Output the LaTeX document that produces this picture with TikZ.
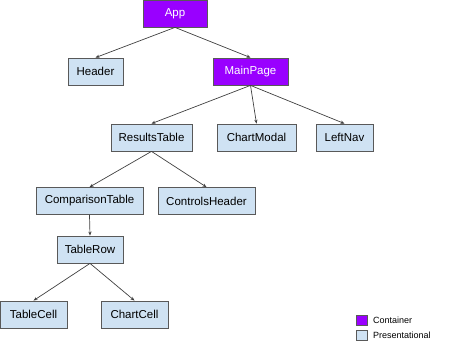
\documentclass[tikz,border=0pt]{standalone}
\usepackage{fontspec}
\setmainfont{Liberation Sans}
\usetikzlibrary{arrows.meta}
\definecolor{container}{HTML}{9900FF}
\definecolor{presfill}{HTML}{CFE2F3}
\definecolor{edgegray}{HTML}{595959}
\definecolor{linegray}{HTML}{404040}

\tikzset{
  comp/.style={draw=edgegray, line width=0.8pt, minimum height=27pt, inner sep=0pt,
    font=\fontsize{11.5}{13}\selectfont},
  cont/.style={comp, fill=container, text=white},
  pres/.style={comp, fill=presfill, text=black},
  link/.style={draw=linegray, line width=0.7pt, -{Stealth[length=4pt,width=3.2pt]}},
  key/.style={draw=edgegray, line width=0.7pt, minimum width=11pt, minimum height=10pt, inner sep=0pt}
}

\begin{document}
\begin{tikzpicture}[x=1pt, y=-1pt]
  \useasboundingbox (0,0) rectangle (451,347);
  % containers
  \node[cont, minimum width=64pt] (app) at (175,13.5) {App};
  \node[cont, minimum width=75pt] (mainpage) at (250.5,71.5) {MainPage};
  % presentational components
  \node[pres, minimum width=55pt] (header) at (95.5,71.5) {Header};
  \node[pres, minimum width=81pt] (results) at (151.5,137.5) {ResultsTable};
  \node[pres, minimum width=79pt] (chartmodal) at (256.5,137.5) {ChartModal};
  \node[pres, minimum width=57pt] (leftnav) at (344.5,137.5) {LeftNav};
  \node[pres, minimum width=107pt] (comparison) at (89.5,201) {ComparisonTable};
  \node[pres, minimum width=97pt] (controls) at (206.5,201) {ControlsHeader};
  \node[pres, minimum width=66pt] (tablerow) at (90,249.5) {TableRow};
  \node[pres, minimum width=67pt] (tablecell) at (33.5,314.5) {TableCell};
  \node[pres, minimum width=67pt] (chartcell) at (134.5,314.5) {ChartCell};

  \draw[link] (app.south) -- (header.north);
  \draw[link] (app.south) -- (mainpage.north);
  \draw[link] (mainpage.south) -- (results.north);
  \draw[link] (mainpage.south) -- (chartmodal.north);
  \draw[link] (mainpage.south) -- (leftnav.north);
  \draw[link] (results.south) -- (comparison.north);
  \draw[link] (results.south) -- (controls.north);
  \draw[link] (comparison.south) -- (tablerow.north);
  \draw[link] (tablerow.south) -- (tablecell.north);
  \draw[link] (tablerow.south) -- (chartcell.north);

  % legend
  \node[key, fill=container] (keycont) at (361.5,320) {};
  \node[key, fill=presfill] (keypres) at (361.5,335) {};
  \node[anchor=west, inner sep=0pt, font=\fontsize{9}{10}\selectfont] at (373,320) {Container};
  \node[anchor=west, inner sep=0pt, font=\fontsize{9}{10}\selectfont] at (373,335) {Presentational};
\end{tikzpicture}
\end{document}
